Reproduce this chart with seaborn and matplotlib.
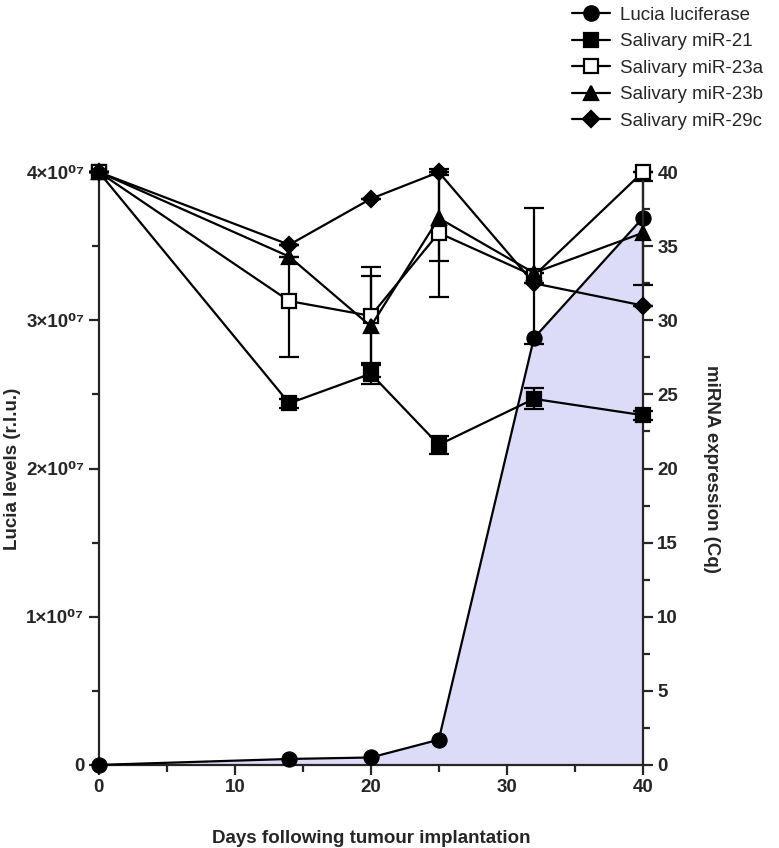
import numpy as np
import pandas as pd
import matplotlib
matplotlib.use('Agg')
import matplotlib.pyplot as plt
import seaborn as sns
from matplotlib.ticker import MultipleLocator
from matplotlib.lines import Line2D

sns.set_style('ticks')
plt.rcParams['font.family'] = ['Liberation Sans', 'DejaVu Sans']

# days after implantation
days = [0, 14, 20, 25, 32, 40]

# Lucia luciferase (r.l.u.), left axis
lucia = [0, 0.04e7, 0.05e7, 0.17e7, 2.88e7, 3.69e7]

# salivary miRNA Cq values, right axis
mir21 = [40, 24.4, 26.4, 21.6, 24.7, 23.6]
mir21_err = [0, 0.3, 0.7, 0.6, 0.7, 0.3]
mir23a = [40, 31.3, 30.3, 35.9, 33.0, 40]
mir23a_err = [0, 3.8, 3.3, 4.3, 4.6, 0]
mir23b = [40, 34.3, 29.6, 36.9, 33.2, 35.9]
mir23b_err = [0, 0, 3.4, 2.9, 0, 3.5]
mir29c = [40, 35.1, 38.2, 40, 32.5, 31.0]
mir29c_err = [0, 0, 0, 0, 0, 0]

left_ticks = [0, 1e7, 2e7, 3e7, 4e7]
left_labels = ['0', '1×10⁰⁷', '2×10⁰⁷', '3×10⁰⁷', '4×10⁰⁷']

fig = plt.figure(figsize=(7.79, 8.48), dpi=100)
ax = fig.add_axes([0.127, 0.098, 0.698, 0.699])
ax2 = ax.twinx()

lw = 1.6
ax.fill_between(days, lucia, 0, color='#dcdcf8', lw=0, zorder=0)
sns.lineplot(x=days, y=lucia, ax=ax, color='black', lw=lw, marker='o',
             markersize=11, markeredgecolor='black', markerfacecolor='black',
             zorder=3, clip_on=False)

series = [
    ('Salivary miR-21', mir21, mir21_err, 's', 'black', 10),
    ('Salivary miR-23a', mir23a, mir23a_err, 's', 'white', 10),
    ('Salivary miR-23b', mir23b, mir23b_err, '^', 'black', 10),
    ('Salivary miR-29c', mir29c, mir29c_err, 'D', 'black', 8),
]
for name, vals, err, mk, fc, ms in series:
    eb = ax2.errorbar(days, vals, yerr=err, fmt='none', ecolor='black',
                      elinewidth=lw, capsize=7, capthick=lw, zorder=2)
    for c in eb.get_children():
        c.set_clip_on(False)
    sns.lineplot(x=days, y=vals, ax=ax2, color='black', lw=lw, marker=mk,
                 markersize=ms, markerfacecolor=fc, markeredgecolor='black',
                 markeredgewidth=1.6, zorder=3, clip_on=False)

ax.set_xlim(0, 40)
ax.set_ylim(0, 4e7)
ax2.set_ylim(0, 40)

ax.set_yticks(left_ticks)
ax.set_yticklabels(left_labels)
ax.yaxis.set_minor_locator(MultipleLocator(0.5e7))
ax.xaxis.set_major_locator(MultipleLocator(10))
ax.xaxis.set_minor_locator(MultipleLocator(5))
ax2.yaxis.set_major_locator(MultipleLocator(5))
ax2.yaxis.set_minor_locator(MultipleLocator(2.5))

for a in (ax, ax2):
    a.spines['top'].set_visible(False)
    for s in a.spines.values():
        s.set_linewidth(1.6)
    a.tick_params(which='major', length=7, width=1.6, labelsize=13.5)
    a.tick_params(which='minor', length=5, width=1.6)
    for lab in a.get_xticklabels() + a.get_yticklabels():
        lab.set_fontweight('bold')
ax.spines['right'].set_visible(False)
ax2.spines['left'].set_visible(False)
ax2.spines['bottom'].set_visible(False)

ax.set_xlabel('Days following tumour implantation', fontsize=13.5,
              fontweight='bold', labelpad=24)
ax.set_ylabel('Lucia levels (r.l.u.)', fontsize=13.5, fontweight='bold',
              labelpad=4)
ax2.set_ylabel('miRNA expression (Cq)', fontsize=13.5, fontweight='bold',
               rotation=270, labelpad=30)

# legend above the plot on the right
handles = [Line2D([], [], color='black', lw=lw, marker='o', markersize=11,
                  markerfacecolor='black')]
for name, vals, err, mk, fc, ms in series:
    handles.append(Line2D([], [], color='black', lw=lw, marker=mk,
                          markersize=ms, markerfacecolor=fc,
                          markeredgecolor='black', markeredgewidth=1.6))
labels = ['Lucia luciferase'] + [s[0] for s in series]
fig.legend(handles, labels, loc='upper left', bbox_to_anchor=(0.713, 1.012),
           frameon=False, fontsize=13.5, handlelength=2.0, labelspacing=0.5,
           handletextpad=0.55)

fig.savefig('out.png', dpi=100)
